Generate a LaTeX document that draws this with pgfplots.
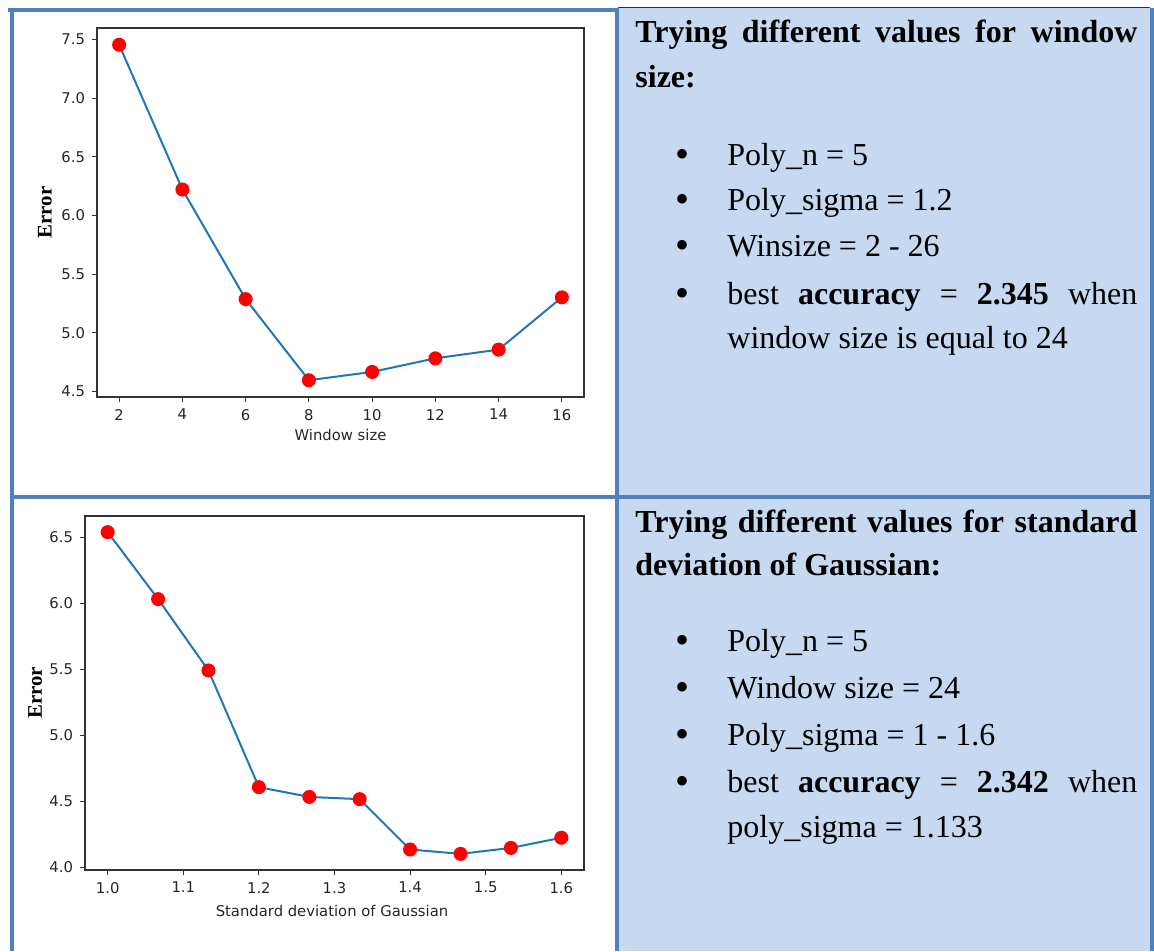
\documentclass[border=0pt]{standalone}
\usepackage{fontspec}
\setmainfont{Liberation Serif}
\newfontfamily\dejavu{DejaVu Sans}
\usepackage{pgfplots}
\pgfplotsset{compat=1.18}
\definecolor{bordblue}{RGB}{79,129,189}
\definecolor{cellblue}{RGB}{198,217,240}
\definecolor{mplblue}{RGB}{31,119,180}
\pgfplotsset{
  mplstyle/.style={
    scale only axis,
    axis line style={black!80, line width=0.6pt},
    tick style={black!80, line width=0.5pt},
    tick align=outside,
    major tick length=2.5pt,
    xtick pos=bottom, ytick pos=left,
    /pgf/number format/assume math mode=true,
    ticklabel style={font=\dejavu\fontsize{7.4}{8}\selectfont, text=black!85},
    label style={font=\dejavu\fontsize{7.4}{8}\selectfont, text=black!85},
    yticklabel style={/pgf/number format/.cd, fixed, fixed zerofill, precision=1},
    clip=false,
  },
  mplline/.style={color=mplblue, line width=1pt, mark=*, mark size=3pt,
    mark options={draw=red, fill=red}},
}
\newcommand{\bul}{{\fontsize{20pt}{20pt}\selectfont •}}
\begin{document}
\begin{tikzpicture}
\path[use as bounding box] (0,0) rectangle (577pt,475.5pt);
\begin{scope}[x=0.5pt, y=-0.5pt, shift={(0,475.5pt)}]
  % right cells fill
  \fill[cellblue] (618,8) rectangle (1150,951);
  \draw[black!80, line width=0.5pt] (618,8) -- (1150,8);
  % borders
  \draw[bordblue, line width=2pt] (8,10) -- (616,10);
  \draw[bordblue, line width=2pt] (12,8) -- (12,951);
  \draw[bordblue, line width=2pt] (616.5,8) -- (616.5,951);
  \draw[bordblue, line width=2pt] (1151.5,8) -- (1151.5,951);
  \draw[bordblue, line width=2pt] (10,497) -- (1152,497);
  % top cell text
  \begin{scope}[every node/.style={inner sep=0pt, font=\fontsize{16pt}{23pt}\selectfont}]
    \node[anchor=base west] at (635,43) {\makebox[251pt][s]{\bfseries Trying different values for window}};
    \node[anchor=base west] at (635,88) {\bfseries size:};
    \foreach \yy in {168,213,259,307} {\node[anchor=base] at (682,\yy) {\bul};}
    \node[anchor=base west] at (727,166) {Poly\_n = 5};
    \node[anchor=base west] at (727,211) {Poly\_sigma = 1.2};
    \node[anchor=base west] at (727,257) {Winsize = 2 - 26};
    \node[anchor=base west] at (727,305) {\makebox[205pt][s]{best \textbf{accuracy} = \textbf{2.345} when}};
    \node[anchor=base west] at (727,349) {window size is equal to 24};
    % bottom cell text
    \node[anchor=base west] at (635,533) {\makebox[251pt][s]{\bfseries Trying different values for standard}};
    \node[anchor=base west] at (635,576) {\bfseries deviation of Gaussian:};
    \foreach \yy in {654,701,748,795} {\node[anchor=base] at (682,\yy) {\bul};}
    \node[anchor=base west] at (727,652) {Poly\_n = 5};
    \node[anchor=base west] at (727,699) {Window size = 24};
    \node[anchor=base west] at (727,746) {Poly\_sigma = 1 - 1.6};
    \node[anchor=base west] at (727,793) {\makebox[205pt][s]{best \textbf{accuracy} = \textbf{2.342} when}};
    \node[anchor=base west] at (727,838) {poly\_sigma = 1.133};
  \end{scope}
\end{scope}

% top plot
\begin{axis}[mplstyle,
  at={(48.5pt,277pt)}, anchor=south west,
  width=243.5pt, height=184.5pt,
  xmin=1.3, xmax=16.7, ymin=4.452, ymax=7.60,
  xtick={2,4,6,8,10,12,14,16},
  ytick={4.5,5.0,5.5,6.0,6.5,7.0,7.5},
  xlabel={Window size},
  xlabel style={at={(axis description cs:0.5,-0.103)}, anchor=center},
  ylabel={Error},
  ylabel style={at={(axis description cs:-0.107,0.5)}, anchor=center, rotate=0,
    font=\bfseries\fontsize{10.4pt}{11pt}\selectfont, text=black},
]
\addplot[mplline] coordinates {
(2,7.457) (4,6.222) (6,5.287) (8,4.595) (10,4.666) (12,4.782) (14,4.856) (16,5.302)
};
\end{axis}

% bottom plot
\begin{axis}[mplstyle,
  at={(42.5pt,40.5pt)}, anchor=south west,
  width=249.5pt, height=177pt,
  xmin=0.97, xmax=1.63, ymin=3.981, ymax=6.660,
  xtick={1.0,1.1,1.2,1.3,1.4,1.5,1.6},
  ytick={4.0,4.5,5.0,5.5,6.0,6.5},
  xticklabel style={/pgf/number format/.cd, fixed, fixed zerofill, precision=1},
  xlabel={Standard deviation of Gaussian},
  xlabel style={at={(axis description cs:0.495,-0.116)}, anchor=center},
  ylabel={Error},
  ylabel style={at={(axis description cs:-0.10,0.5)}, anchor=center, rotate=0,
    font=\bfseries\fontsize{10.4pt}{11pt}\selectfont, text=black},
]
\addplot[mplline] coordinates {
(1.0,6.538) (1.0667,6.031) (1.1333,5.491) (1.2,4.608) (1.2667,4.534)
(1.3333,4.517) (1.4,4.136) (1.4667,4.103) (1.5333,4.148) (1.6,4.225)
};
\end{axis}
\end{tikzpicture}
\end{document}
